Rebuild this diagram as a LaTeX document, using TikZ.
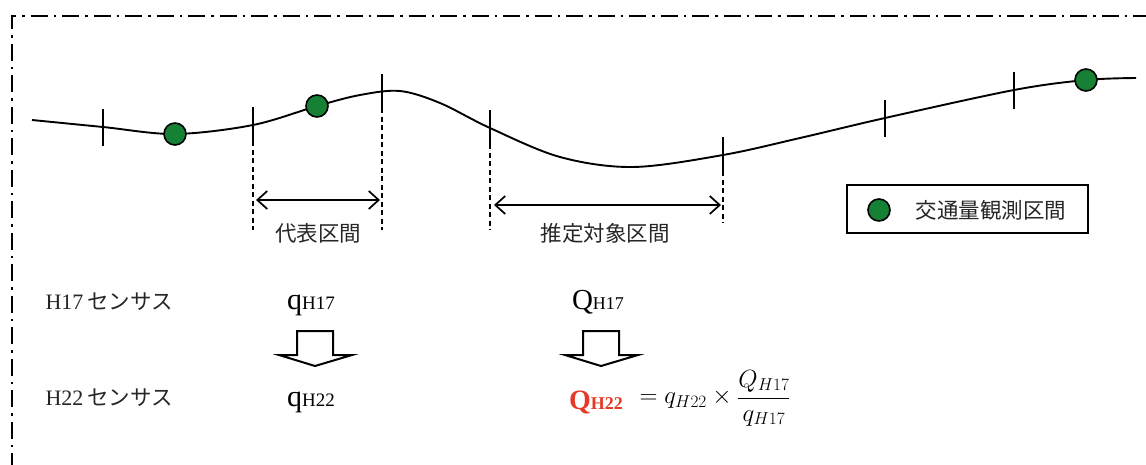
\documentclass[tikz,border=0pt]{standalone}
\usepackage{fontspec}
\setmainfont{Liberation Serif}
\newfontfamily\jp{Noto Sans CJK JP}
\usetikzlibrary{arrows.meta}
\definecolor{obsgreen}{RGB}{22,128,52}
\definecolor{qred}{RGB}{228,58,40}
\tikzset{
  road/.style={line width=1.9pt},
  tickmark/.style={line width=1.7pt},
  guide/.style={line width=1.5pt, dash pattern=on 5pt off 3.5pt},
  obs/.style={circle, draw=black, line width=1.6pt, fill=obsgreen, minimum size=22pt, inner sep=0pt},
  span/.style={line width=1.7pt, {Straight Barb[length=10pt,width=18pt,line width=1.7pt]}-{Straight Barb[length=10pt,width=18pt,line width=1.7pt]}},
  jlabel/.style={font=\jp\fontsize{21.5}{24}\selectfont, text=black!85},
  blockarrow/.style={draw, line width=2pt, fill=white, line join=miter},
  frame/.style={line width=1.8pt, dash pattern=on 17pt off 6pt on 2.5pt off 6pt}
}
\begin{document}
\begin{tikzpicture}[x=1pt,y=-1pt]
\useasboundingbox (0,0) rectangle (1146,464);
\begin{scope}
\clip (0,0) rectangle (1146,464);
\draw[frame] (12,470) -- (12,16) -- (1150,16);
\end{scope}
% road
\draw[road] plot[smooth, tension=0.55] coordinates {(32,120) (103,127) (175,134) (253,125) (317,106) (360,95) (400,91) (440,103) (490,128) (560,157) (633,167) (723,155) (800,138) (885,118) (1014,90) (1086,80) (1136,78)};
% ticks
\coordinate (t1) at (103,127);
\coordinate (t2) at (253,125);
\coordinate (t3) at (382,92);
\coordinate (t4) at (490,128);
\coordinate (t5) at (723,155);
\coordinate (t6) at (885,118);
\coordinate (t7) at (1014,90);
\foreach \t in {t1,t2,t3,t4,t5,t6,t7}{
  \draw[tickmark] ([yshift=-19pt]\t) -- ([yshift=18pt]\t);
}
% dashed guides
\coordinate (g2) at (253,230);
\coordinate (g3) at (382,230);
\coordinate (g4) at (490,230);
\coordinate (g5) at (723,223);
\draw[guide] ([yshift=18pt]t2) -- (g2);
\draw[guide] ([yshift=18pt]t3) -- (g3);
\draw[guide] ([yshift=18pt]t4) -- (g4);
\draw[guide] ([yshift=18pt]t5) -- (g5);
% observation points
\node[obs] (o1) at (175,134) {};
\node[obs] (o2) at (317,106) {};
\node[obs] (o3) at (1086,80) {};
% spans
\coordinate (a1l) at (256,200);
\coordinate (a1r) at (380,200);
\coordinate (a2l) at (494,205);
\coordinate (a2r) at (721,205);
\draw[span] (a1l) -- (a1r);
\draw[span] (a2l) -- (a2r);
\node[jlabel] (l1) at (318,233) {代表区間};
\node[jlabel] (l2) at (605,233) {推定対象区間};
% legend
\node[draw, line width=1.8pt, minimum width=241pt, minimum height=48pt, inner sep=0pt] (leg) at (967.5,209) {};
\node[obs] (legdot) at (879,210) {};
\node[jlabel, anchor=west] (legtxt) at (912,210) {交通量観測区間};
% census labels
\node[anchor=west, font=\fontsize{22}{24}\selectfont, text=black!85] (h17) at (42,302) {H17\,{\jp\fontsize{21.5}{24}\selectfont センサス}};
\node[anchor=west, font=\fontsize{22}{24}\selectfont, text=black!85] (h22) at (42,398) {H22\,{\jp\fontsize{21.5}{24}\selectfont センサス}};
% quantities
\node[font=\fontsize{30}{30}\selectfont] (q17) at (311,305) {q{\fontsize{19}{19}\selectfont H17}};
\node[font=\fontsize{30}{30}\selectfont] (q22) at (311,402) {q{\fontsize{19}{19}\selectfont H22}};
\node[font=\fontsize{29}{30}\selectfont] (Q17) at (598,302) {Q{\fontsize{18}{18}\selectfont H17}};
\node[font=\bfseries\fontsize{28}{30}\selectfont, text=qred] (Q22) at (596,402) {Q{\fontsize{18}{18}\selectfont H22}};
\node[anchor=west, font=\fontsize{25}{28}\selectfont] (formula) at (636,398) {$\displaystyle = q_{H22}\times\frac{Q_{H17}}{q_{H17}}$};
% block arrows
\draw[blockarrow] (297,331) -- (333,331) -- (333,355) -- (352,355) -- (315,366) -- (279,355) -- (297,355) -- cycle;
\draw[blockarrow] (583,331) -- (619,331) -- (619,355) -- (638,355) -- (601,366) -- (565,355) -- (583,355) -- cycle;
\end{tikzpicture}
\end{document}
